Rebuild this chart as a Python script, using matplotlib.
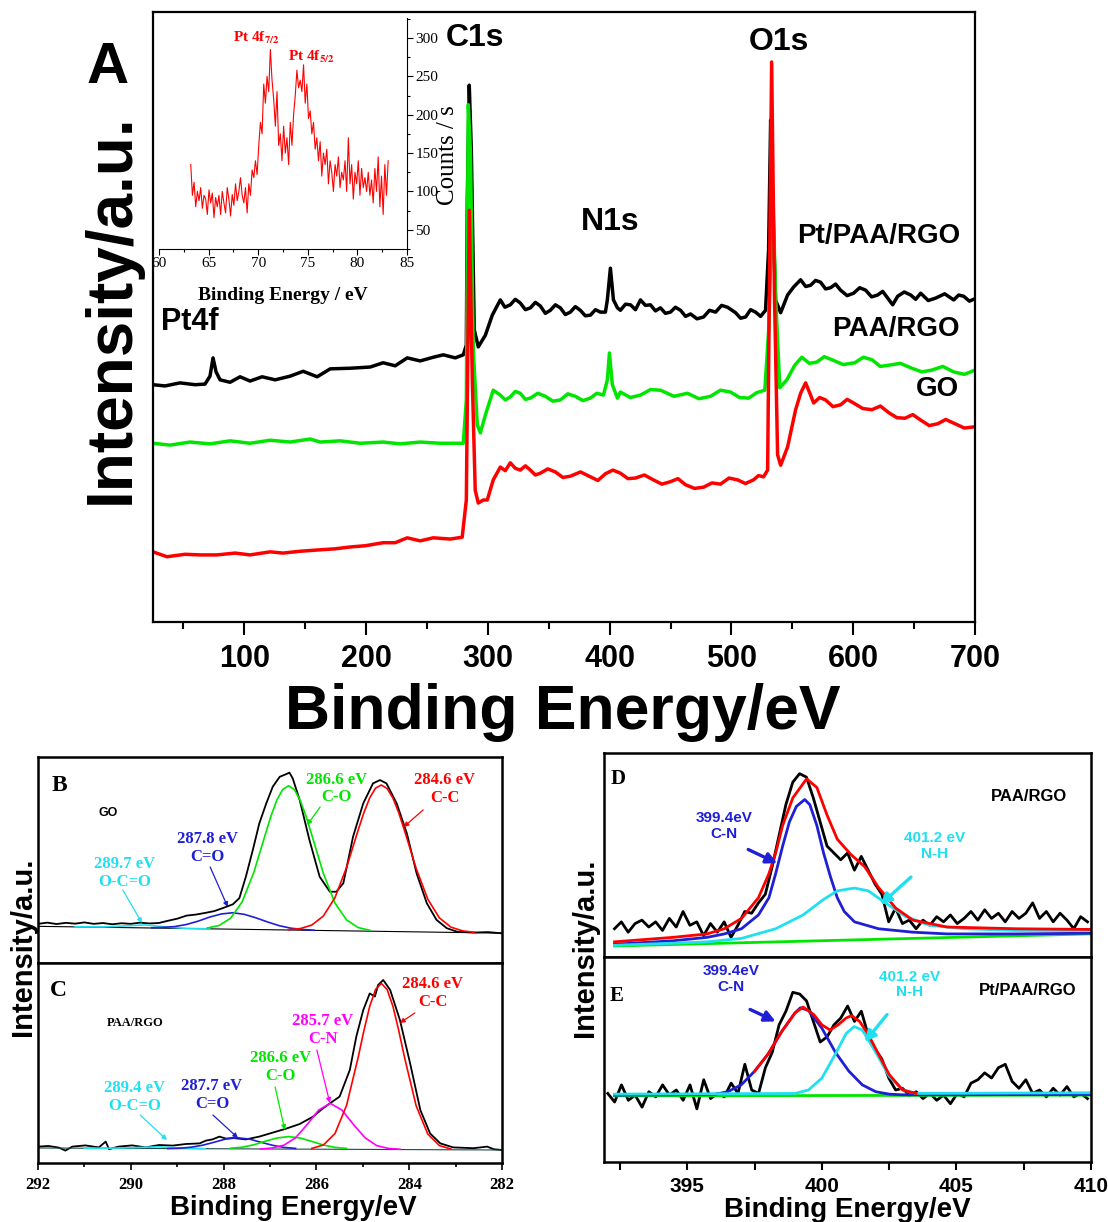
import numpy as np
import matplotlib
matplotlib.use("Agg")
import matplotlib.pyplot as plt
from matplotlib.ticker import MultipleLocator

plt.rcParams['font.family'] = ['Liberation Sans', 'DejaVu Sans']
plt.rcParams['font.weight'] = 'bold'
plt.rcParams['axes.labelweight'] = 'bold'
plt.rcParams['mathtext.fontset'] = 'stix'

SANS = 'Liberation Sans'
SERIF = 'Liberation Serif'
RED, GREEN, BLUE, CYAN, MAGENTA = '#ff0000', '#00e600', '#1f1fd6', '#20e0f0', '#ff00ff'
W, H = 1108, 1222

# ---------------- panel A: survey spectra (binding energy eV, intensity a.u.) ----------------
pt_ev = [25, 34.9, 47.2, 59.5, 67.7, 71.8, 74.3, 76.8, 80.1, 88.3, 96.5, 104.7, 114.6, 125.3, 137.6,
         148.3, 159.8, 170.5, 186.9, 203.4, 214.0, 223.9, 233.8, 244.4, 255.1, 263.4, 273.2, 279.8,
         282.3, 283.1, 284.7, 286.4, 288.8, 292.1, 297.9, 303.6, 310.2, 314.0, 318.4, 322.5, 326.6,
         330.8, 334.9, 339.0, 343.1, 347.2, 351.3, 355.4, 359.5, 363.6, 367.7, 371.8, 375.9, 380.0,
         384.2, 388.3, 392.4, 396.5, 398.1, 400.6, 403.1, 406.4, 408.8, 413.0, 417.1, 421.2,
         425.3, 429.4, 433.5, 437.6, 441.7, 445.8, 449.9, 454.0, 458.2, 462.3, 466.4, 471.7, 477.1,
         482.0, 487.0, 491.9, 496.8, 503.4, 507.5, 511.6, 515.7, 519.8, 523.9, 528.0,
         530.5, 532.2, 533.8, 536.2, 540.4, 546.1, 551.0, 556.8, 561.0, 565.0, 569.1, 573.2, 577.3,
         581.4, 585.5, 589.6, 595.0, 600.3, 605.3, 610.2, 615.1, 620.0, 624.2, 628.3, 632.4, 636.5,
         641.9, 647.2, 651.3, 655.4, 661.6, 667.7, 675.1, 682.5, 686.6, 690.7, 695.4, 700]
pt_int = [38.9, 38.7, 39.2, 38.9, 39.0, 40.3, 43.3, 41.0, 39.7, 39.3, 40.2, 39.5, 40.2, 39.7, 40.3,
          41.1, 40.2, 41.5, 41.6, 41.8, 42.5, 42.0, 43.3, 42.8, 43.4, 43.8, 43.3, 43.8,
          45.4, 69.2, 88.0, 77.4, 47.9, 45.1, 47.0, 50.3, 52.8, 51.6, 52.0, 52.9, 52.3,
          51.2, 51.5, 52.4, 51.8, 50.6, 51.1, 52.0, 51.5, 50.4, 50.8, 51.7, 51.1, 50.2,
          50.3, 51.2, 50.8, 50.8, 52.8, 58.0, 52.8, 51.5, 51.1, 52.1, 52.0, 51.2,
          52.8, 51.9, 52.0, 51.0, 51.5, 50.6, 50.8, 51.6, 51.1, 50.1, 50.5, 49.7, 50.0,
          51.1, 50.8, 51.9, 51.6, 50.7, 49.8, 50.0, 51.2, 50.8, 50.1, 51.1,
          61.0, 82.3, 69.2, 52.8, 50.7, 53.6, 54.9, 56.1, 55.0, 55.2, 56.0, 55.7, 54.6,
          54.8, 55.4, 54.4, 53.5, 53.9, 54.8, 54.4, 53.3, 53.6, 54.2, 53.1, 52.0, 53.4,
          54.1, 53.6, 52.9, 53.9, 52.7, 53.1, 53.8, 52.8, 53.6, 53.4, 52.6, 53.0]

paa_ev = [25, 39.0, 55.4, 71.8, 88.3, 104.7, 121.2, 137.6, 154.0, 162.3, 178.7, 195.1, 214.0, 228.0,
          244.4, 260.9, 279.8, 282.3, 283.9, 285.6, 288.0, 291.3, 293.8, 297.9, 304.4, 310.2, 314.3,
          318.4, 322.5, 326.6, 330.8, 334.9, 341.0, 347.2, 353.3, 359.5, 365.6, 371.8, 378.0, 384.2,
          389.5, 394.9, 398.1, 399.8, 402.2, 406.4, 408.8, 417.0, 425.3, 433.5, 441.7, 452.8, 463.9,
          473.3, 482.8, 491.0, 499.2, 506.7, 514.2, 520.8, 527.4, 530.6, 533.9, 536.4, 539.7, 545.5,
          552.0, 557.8, 564.0, 570.1, 576.2, 582.4, 591.8, 601.3, 608.3, 615.3, 622.3, 629.3, 638.7,
          648.2, 656.4, 664.6, 673.5, 682.5, 691.2, 700]
paa_int = [29.3, 29.0, 29.5, 29.2, 29.7, 29.3, 29.8, 29.5, 30.0, 29.5, 29.7, 29.3, 29.5, 29.2,
           29.5, 29.3, 29.3, 36.4, 84.8, 77.4, 44.6, 32.3, 31.0, 33.9, 38.0, 37.2, 36.4,
           36.9, 37.8, 37.5, 36.5, 36.7, 37.5, 37.0, 36.2, 36.4, 37.4, 37.0, 36.3, 36.7,
           37.5, 37.2, 39.7, 44.1, 38.9, 36.7, 37.7, 36.8, 37.2, 38.1, 38.0, 37.0, 37.5,
           36.6, 37.0, 38.0, 37.7, 36.8, 36.7, 37.6, 38.0, 47.9, 70.8, 52.8, 38.4, 39.7,
           42.1, 43.4, 42.4, 42.6, 43.5, 43.0, 42.2, 42.5, 43.4, 43.0, 41.9, 42.1, 42.4,
           41.6, 41.0, 41.3, 41.9, 41.0, 40.6, 41.3]

go_ev = [25, 36.5, 51.3, 63.6, 77.6, 92.4, 104.7, 121.2, 131.8, 145.8, 159.8, 174.6, 186.9, 199.2,
         214.0, 223.9, 233.8, 244.4, 255.1, 269.1, 278.9, 282.3, 284.7, 287.2, 289.6, 292.1, 296.2,
         299.5, 304.4, 310.2, 314.3, 318.4, 322.5, 326.6, 330.8, 334.9, 339.0, 343.1, 349.2, 355.4,
         361.5, 367.7, 376.0, 384.2, 390.3, 396.5, 402.6, 408.8, 415.0, 421.2, 428.5, 435.9, 442.9,
         449.9, 456.1, 462.3, 469.7, 477.1, 484.0, 491.0, 498.0, 505.0, 511.5, 518.1, 522.2, 526.4,
         529.7, 533.0, 535.4, 537.9, 540.4, 546.1, 552.7, 556.8, 560.9, 565.0, 567.5, 572.4, 577.3,
         583.4, 589.6, 595.0, 600.3, 607.8, 615.3, 622.3, 629.3, 635.8, 642.4, 648.9, 655.4, 662.4,
         669.4, 676.0, 682.5, 691.2, 700]
go_int = [11.5, 10.7, 11.1, 11.0, 11.0, 11.3, 11.0, 11.5, 11.3, 11.6, 11.8, 12.0, 12.3, 12.5,
          13.0, 13.0, 13.8, 13.3, 13.8, 13.6, 13.9, 20.0, 67.5, 39.7, 21.6, 19.5, 20.0,
          20.0, 23.3, 25.4, 24.8, 26.1, 25.2, 24.9, 25.6, 24.9, 24.1, 24.4, 25.1, 24.6,
          23.7, 23.9, 24.6, 23.8, 23.2, 24.3, 24.9, 24.4, 23.5, 23.6, 24.1, 23.3, 22.6,
          23.0, 23.5, 22.5, 21.9, 22.1, 22.8, 22.6, 23.6, 23.3, 22.7, 23.3, 24.0, 23.8,
          24.9, 91.8, 52.8, 27.4, 25.7, 28.7, 34.8, 37.5, 39.2, 37.2, 35.9, 36.8, 36.4,
          35.3, 35.6, 36.5, 35.9, 35.0, 34.8, 35.4, 34.3, 33.5, 33.4, 34.0, 33.1, 32.2,
          32.5, 33.2, 32.6, 31.8, 32.0]

# inset: Pt 4f region, counts/s, evenly sampled from 63.2 to 83.1 eV
pt4f_counts = [135, 95, 112, 80, 100, 88, 105, 78, 95, 90, 70, 102, 85, 98, 66, 92, 80,
               95, 70, 100, 85, 72, 105, 90, 68, 96, 82, 110, 88, 100, 118, 95, 85, 105, 72,
               110, 95, 128, 118, 140, 122, 160, 190, 175,
               240, 215, 250, 230, 285, 245,
               220, 185, 230, 160, 175, 140,
               185, 150, 170, 135, 190, 160,
               200, 225, 258, 235, 245, 230,
               265, 215, 240, 195, 205, 175,
               190, 155, 170, 140, 165, 120, 150, 135, 155,
               110, 140, 125, 100, 135, 120, 145, 105, 125, 115, 140, 100,
               170, 110, 135, 90, 125, 110, 140, 95, 130, 105, 118, 100,
               125, 95, 115, 85, 130, 100, 145, 80, 120, 70, 135, 95, 140]

# ---------------- panels B / C: C1s ----------------
b_ev = [292.0, 291.8, 291.6, 291.4, 291.2, 291.0, 290.8, 290.6, 290.4, 290.2, 290.0, 289.8, 289.6,
        289.4, 289.2, 289.0, 288.8, 288.6, 288.4, 288.2, 288.0, 287.8, 287.66, 287.52, 287.37,
        287.23, 287.08, 286.94, 286.79, 286.65, 286.58, 286.51, 286.36, 286.15, 285.93, 285.71,
        285.57, 285.42, 285.21, 284.99, 284.78, 284.63, 284.49, 284.27, 284.05, 283.84, 283.62,
        283.41, 283.19, 282.97, 282.61, 282.3, 282.0]
b_int = [19.0, 19.6, 18.9, 19.5, 19.1, 19.7, 19.0, 19.4, 18.8, 19.3, 19.0, 19.6, 19.2,
         19.4, 20.5, 21.5, 23.0, 23.5, 24.3, 25.2, 26.8, 28.5, 31.5, 41.9, 54.9,
         67.8, 77.5, 85.6, 90.4, 91.7, 92.4, 89.6, 79.1, 59.7, 41.9, 34.6,
         34.6, 38.7, 61.3, 77.5, 87.2, 88.8, 87.2, 77.5, 62.9, 43.5, 29.0,
         20.9, 16.9, 15.2, 14.8, 15.0, 14.4]
b_cc_ev = [282.6, 282.85, 283.1, 283.35, 283.6, 283.85, 284.1, 284.225, 284.35, 284.475, 284.6,
           284.725, 284.85, 284.975, 285.1, 285.35, 285.6, 285.85, 286.1, 286.35, 286.6]
b_cc_int = [14.9, 15.6, 17.4, 21.9, 31.0, 45.9, 64.2, 72.9, 80.0, 84.7, 86.4,
            84.9, 80.2, 73.1, 64.5, 46.4, 31.7, 22.8, 18.4, 16.7, 16.2]
b_co_ev = [284.85, 285.1, 285.35, 285.6, 285.85, 286.1, 286.225, 286.35, 286.475, 286.6, 286.725,
           286.85, 286.975, 287.1, 287.35, 287.6, 287.85, 288.1, 288.35]
b_co_int = [15.9, 17.2, 20.9, 29.1, 43.5, 62.2, 71.4, 79.0, 84.2, 86.0, 84.3,
            79.2, 71.6, 62.5, 43.9, 29.7, 21.7, 18.2, 17.0]
b_cdo_ev = [286.05, 286.3, 286.55, 286.8, 287.05, 287.3, 287.55, 287.8, 288.05, 288.3, 288.55,
            288.8, 289.05, 289.3, 289.55]
b_cdo_int = [15.9, 16.3, 16.9, 18.1, 19.9, 21.9, 23.6, 24.4, 23.8, 22.3, 20.3, 18.7, 17.7, 17.3, 17.1]
b_occo_ev = [288.3, 288.8, 289.2, 289.7, 290.2, 290.6, 291.2]
b_occo_int = [16.6, 16.8, 17.4, 18.5, 17.9, 17.5, 17.6]
b_base_ev, b_base_int = [292, 282], [17.8, 14.5]

c_ev = [292.0, 291.77, 291.55, 291.41, 291.26, 290.98, 290.69, 290.54, 290.47, 290.26, 289.97,
        289.68, 289.39, 289.10, 288.81, 288.52, 288.38, 288.24, 288.09, 287.95, 287.80, 287.52,
        287.23, 286.94, 286.65, 286.36, 286.07, 285.86, 285.71, 285.50, 285.28, 285.14, 284.99,
        284.85, 284.74, 284.67, 284.56, 284.41, 284.20, 283.98, 283.76, 283.55, 283.33, 283.05,
        282.61, 282.32, 282.18, 282.0]
c_int = [8.2, 8.5, 7.7, 6.2, 8.2, 8.8, 7.8, 10.7, 6.9, 8.2, 8.8,
         7.8, 9.0, 8.7, 9.5, 9.8, 11.2, 11.8, 13.2, 12.2, 12.5, 11.8,
         13.2, 15.2, 17.2, 19.5, 23.2, 27.3, 29.8, 33.2, 46.5, 63.2, 76.5,
         84.8, 83.2, 89.0, 91.5, 86.5, 71.5, 49.8, 26.5, 14.8, 9.8, 7.8,
         7.4, 8.2, 6.9, 6.5]
c_cc_ev = [283.1, 283.35, 283.6, 283.85, 284.1, 284.225, 284.35, 284.475, 284.6, 284.725, 284.85,
           284.975, 285.1, 285.35, 285.6, 285.85, 286.1]
c_cc_int = [7.0, 8.7, 14.5, 28.6, 52.7, 66.2, 78.3, 86.7, 89.8, 86.8, 78.4, 66.3, 52.8, 28.8, 14.7, 9.0, 7.3]
c_cn_ev = [284.2, 284.45, 284.7, 284.95, 285.2, 285.45, 285.7, 285.95, 286.2, 286.45, 286.7, 286.95, 287.2]
c_cn_int = [6.9, 7.3, 8.7, 12.6, 19.2, 26.5, 29.8, 26.5, 19.2, 12.6, 8.9, 7.5, 7.0]
c_co_ev = [285.35, 285.6, 285.85, 286.1, 286.35, 286.6, 286.85, 287.1, 287.35, 287.6, 287.85]
c_co_int = [7.3, 7.8, 9.0, 10.8, 12.5, 13.2, 12.5, 10.9, 9.1, 7.9, 7.4]
c_cdo_ev = [286.45, 286.7, 286.95, 287.2, 287.45, 287.7, 287.95, 288.2, 288.45, 288.7, 288.95, 289.2]
c_cdo_int = [7.3, 7.8, 8.9, 10.4, 12.0, 12.6, 12.0, 10.4, 8.9, 7.9, 7.4, 7.2]
c_occo_ev = [288.4, 288.9, 289.4, 289.9, 290.4, 291.0]
c_occo_int = [7.15, 7.5, 8.1, 7.7, 7.4, 7.4]
c_base_ev, c_base_int = [292, 282], [7.5, 6.5]

# ---------------- panels D / E: N1s ----------------
d_counts = [8.0, 10.0, 7.0, 9.5, 10.5, 8.5, 10.0, 7.5, 11.0, 8.5,
            13.0, 9.0, 10.0, 6.0, 9.5, 7.0, 10.0, 5.5, 9.0, 13.0,
            12.5, 15.5, 18.0, 26.0, 35.0, 44.0, 50.5, 53.0, 52.0, 46.0,
            39.0, 32.0, 30.0, 28.0, 30.0, 25.0, 29.0, 25.0, 21.0, 18.0,
            10.0, 14.0, 9.5, 10.5, 8.0, 10.5, 9.0, 11.5, 10.0, 12.0,
            9.5, 11.0, 13.0, 10.5, 13.5, 11.0, 12.5, 10.0, 13.0, 11.0,
            12.5, 15.5, 11.0, 13.0, 10.0, 12.5, 10.5, 8.0, 11.5, 10.0]
d_cn_ev = [392.29, 394.46, 395.73, 396.37, 397.01, 397.64, 398.03, 398.28, 398.54, 398.79, 399.05,
           399.36, 399.55, 399.81, 400.06, 400.32, 400.57, 400.83, 401.21, 402.10, 403.38, 404.65,
           407.20, 409.97]
d_cn_int = [3.5, 4.5, 5.5, 6.5, 8.0, 12.0, 17.0, 24.0, 32.0, 39.0, 43.5,
            45.5, 44.0, 38.0, 30.0, 23.0, 17.0, 13.0, 10.0, 8.0, 7.0, 6.5, 6.5, 6.7]
d_nh_ev = [392.29, 394.46, 395.73, 397.01, 398.28, 399.30, 400.06, 400.57, 401.21, 401.72, 402.36,
           403.12, 404.01, 405.29, 407.20, 409.97]
d_nh_int = [3.2, 3.8, 4.2, 5.2, 8.0, 12.0, 16.5, 19.0, 19.8, 19.0, 15.5, 11.5, 9.0, 8.0, 7.5, 7.5]
d_fit_ev = [392.29, 394.46, 395.73, 396.37, 397.01, 397.64, 398.03, 398.28, 398.54, 398.92, 399.43,
            399.81, 400.19, 400.57, 401.08, 401.59, 402.10, 402.74, 403.38, 404.65, 407.20, 409.97]
d_fit_int = [4.2, 5.5, 6.5, 8.0, 11.0, 17.0, 24.0, 30.0, 38.0, 46.0, 51.5,
             49.0, 41.0, 34.0, 29.5, 26.0, 20.0, 14.0, 10.5, 8.5, 8.0, 7.8]
d_base_ev, d_base_int = [392.29, 409.97], [3.0, 6.5]

e_counts = [20.0, 17.5, 22.5, 18.0, 19.5, 16.0, 20.5, 19.0, 22.5, 19.5,
            21.0, 18.0, 22.5, 15.5, 24.0, 18.5, 20.0, 19.0, 23.0, 20.0,
            28.5, 21.0, 20.0, 27.5, 32.0, 40.0, 44.0, 49.5, 49.0, 47.0,
            41.0, 35.0, 36.5, 40.0, 42.0, 45.5, 41.0, 44.0, 37.0, 33.0,
            30.0, 24.5, 21.0, 21.5, 19.5, 20.5, 18.5, 20.0, 18.0, 19.5,
            17.0, 20.0, 19.0, 23.0, 24.0, 26.0, 24.5, 27.5, 28.5, 23.5,
            21.5, 24.0, 20.0, 21.0, 19.0, 21.5, 19.5, 22.0, 19.0, 20.0,
            18.5]
e_cn_ev = [392.29, 396.0, 396.5, 397.0, 397.5, 398.0, 398.5, 399.0, 399.2, 399.5, 400.0, 400.5,
           401.0, 401.5, 402.0, 402.5, 403.0, 409.97]
e_cn_int = [19.5, 19.7, 20.5, 22.5, 26.5, 31.5, 38.0, 43.5, 45.0, 44.2, 39.0, 32.0,
            26.5, 22.5, 20.5, 19.8, 19.6, 19.7]
e_nh_ev = [392.29, 399.0, 399.5, 400.0, 400.5, 400.9, 401.2, 401.5, 402.0, 402.5, 403.0, 403.5, 409.97]
e_nh_int = [19.8, 20.0, 21.0, 24.5, 31.5, 37.5, 39.5, 38.5, 32.0, 25.0, 21.0, 20.0, 20.2]
e_fit_ev = [397.5, 398.0, 398.5, 399.0, 399.3, 399.7, 400.0, 400.3, 400.6, 400.9, 401.1, 401.4,
            401.7, 402.0, 402.5, 403.0, 403.5]
e_fit_int = [26.5, 31.5, 38.0, 43.5, 45.2, 43.0, 40.0, 38.5, 40.0, 42.0, 42.7, 41.0,
             37.5, 33.0, 25.5, 21.0, 20.0]
e_base_ev, e_base_int = [392.29, 409.97], [19.3, 19.5]


def box(left, top, right, bottom):
    # pixel box measured from the top-left corner -> figure fraction rect
    return [left / W, 1 - bottom / H, (right - left) / W, (bottom - top) / H]


def label_arrow(ax, txt, xy_text, tail, head, color, size, family, lw, head_size):
    ax.text(xy_text[0], xy_text[1], txt, color=color, fontsize=size, family=family,
            fontweight='bold', ha='center', va='center', linespacing=1.15)
    ax.annotate('', xy=head, xytext=tail,
                arrowprops=dict(arrowstyle='-|>', color=color, lw=lw,
                                mutation_scale=head_size, shrinkA=0, shrinkB=0))


fig = plt.figure(figsize=(W / 100, H / 100), dpi=100)

# ---- A ----
ax = fig.add_axes(box(153, 12, 975, 622))
ax.plot(pt_ev, pt_int, color='black', lw=2.5)
ax.plot(paa_ev, paa_int, color=GREEN, lw=2.5)
ax.plot(go_ev, go_int, color=RED, lw=2.5)
ax.set_xlim(25, 700)
ax.set_ylim(0, 100)
ax.set_yticks([])
ax.xaxis.set_major_locator(MultipleLocator(100))
ax.xaxis.set_minor_locator(MultipleLocator(50))
ax.tick_params(axis='x', which='major', direction='out', length=9, width=1.5, labelsize=22, pad=7)
ax.tick_params(axis='x', which='minor', direction='out', length=5, width=1.5)
for s in ax.spines.values():
    s.set_linewidth(1.6)
ax.set_xlabel('Binding Energy/eV', fontsize=45)
ax.xaxis.set_label_coords(0.499, -0.148)
ax.xaxis.label.set_va('center')
ax.set_ylabel('Intensity/a.u.', fontsize=46)
ax.yaxis.set_label_coords(-0.05, 0.513)
ax.yaxis.label.set_va('center')
fig.text(108 / W, 1 - 68 / H, 'A', fontsize=42, ha='center', va='center')

for txt, x, y, fs in [('C1s', 289.6, 95.7, 23), ('O1s', 538.7, 95.1, 23), ('N1s', 400.6, 65.6, 23),
                      ('Pt4f', 55.4, 49.2, 22), ('Pt/PAA/RGO', 620.9, 63.3, 20),
                      ('PAA/RGO', 634.9, 48.0, 20), ('GO', 669.4, 38.2, 20)]:
    ax.text(x, y, txt, fontsize=fs, ha='center', va='center')

# inset
axi = fig.add_axes(box(159, 18, 407, 249))
axi.patch.set_alpha(0)
axi.plot(np.linspace(63.2, 83.1, len(pt4f_counts)), pt4f_counts, color=RED, lw=0.8)
axi.set_xlim(60, 85)
axi.set_ylim(25, 326)
axi.spines['top'].set_visible(False)
axi.spines['left'].set_visible(False)
axi.yaxis.tick_right()
axi.yaxis.set_label_position('right')
axi.xaxis.set_major_locator(MultipleLocator(5))
axi.xaxis.set_minor_locator(MultipleLocator(2.5))
axi.yaxis.set_major_locator(MultipleLocator(50))
axi.yaxis.set_minor_locator(MultipleLocator(25))
axi.tick_params(which='major', direction='out', length=4, width=0.8, labelsize=11, pad=2)
axi.tick_params(which='minor', direction='out', length=2, width=0.8)
plt.setp(axi.get_xticklabels() + axi.get_yticklabels(), family=SERIF, fontweight='normal')
axi.set_xlabel('Binding Energy / eV', fontsize=14, family=SERIF)
axi.xaxis.set_label_coords(0.5, -0.2)
axi.xaxis.label.set_va('center')
axi.set_ylabel('Counts / s', fontsize=18, family=SERIF, fontweight='normal')
axi.yaxis.set_label_coords(1.165, 0.407)
axi.yaxis.label.set_va('center')
axi.text(67.5, 300, r'Pt 4f$_{\mathbf{7/2}}$', color=RED, fontsize=11, family=SERIF, ha='left', va='center')
axi.text(73.0, 275, r'Pt 4f$_{\mathbf{5/2}}$', color=RED, fontsize=11, family=SERIF, ha='left', va='center')

# ---- B ----
axb = fig.add_axes(box(38, 757, 502, 963))
axb.plot(b_ev, b_int, color='black', lw=1.3)
axb.plot(b_base_ev, b_base_int, color='black', lw=0.8)
axb.plot(b_occo_ev, b_occo_int, color=CYAN, lw=1.2)
axb.plot(b_cdo_ev, b_cdo_int, color=BLUE, lw=1.2)
axb.plot(b_co_ev, b_co_int, color=GREEN, lw=1.2)
axb.plot(b_cc_ev, b_cc_int, color=RED, lw=1.2)
axb.set_xlim(292, 282)
axb.set_ylim(0, 100)
axb.set_xticks([])
axb.set_yticks([])
axb.text(291.53, 86.4, 'B', fontsize=17, family=SERIF, ha='center', va='center')
axb.text(290.49, 72.8, 'GO', fontsize=9, ha='center', va='center')
label_arrow(axb, '286.6 eV\nC-O', (285.56, 84.7), (285.92, 75.7), (286.2, 67.0), GREEN, 12, SERIF, 0.9, 7)
label_arrow(axb, '284.6 eV\nC-C', (283.23, 84.5), (283.70, 74.3), (284.12, 66.0), RED, 12, SERIF, 0.9, 7)
label_arrow(axb, '287.8 eV\nC=O', (288.34, 55.8), (288.29, 46.6), (287.91, 27.2), BLUE, 12, SERIF, 0.9, 7)
label_arrow(axb, '289.7 eV\nO-C=O', (290.13, 43.7), (290.17, 35.4), (289.76, 19.4), CYAN, 12, SERIF, 0.9, 7)

# ---- C ----
axc = fig.add_axes(box(38, 963, 502, 1163))
axc.plot(c_ev, c_int, color='black', lw=1.3)
axc.plot(c_base_ev, c_base_int, color='#1a4a4a', lw=0.8)
axc.plot(c_occo_ev, c_occo_int, color=CYAN, lw=1.2)
axc.plot(c_cdo_ev, c_cdo_int, color=BLUE, lw=1.2)
axc.plot(c_co_ev, c_co_int, color=GREEN, lw=1.2)
axc.plot(c_cn_ev, c_cn_int, color=MAGENTA, lw=1.2)
axc.plot(c_cc_ev, c_cc_int, color=RED, lw=1.2)
axc.set_xlim(292, 282)
axc.set_ylim(0, 100)
axc.set_yticks([])
axc.xaxis.set_major_locator(MultipleLocator(2))
axc.xaxis.set_minor_locator(MultipleLocator(1))
axc.tick_params(axis='x', which='major', direction='out', length=5, width=1.2, labelsize=12, pad=5)
axc.tick_params(axis='x', which='minor', direction='out', length=3, width=1.2)
plt.setp(axc.get_xticklabels(), family=SERIF)
axc.set_xlabel('Binding Energy/eV', fontsize=20)
axc.xaxis.set_label_coords(0.55, -0.225)
axc.xaxis.label.set_va('center')
axc.text(291.57, 86.5, 'C', fontsize=17, family=SERIF, ha='center', va='center')
axc.text(289.91, 70.0, 'PAA/RGO', fontsize=9, family=SERIF, ha='center', va='center')
label_arrow(axc, '284.6 eV\nC-C', (283.49, 85.0), (283.88, 75.0), (284.20, 70.0), RED, 12, SERIF, 0.9, 7)
label_arrow(axc, '285.7 eV\nC-N', (285.86, 66.5), (285.99, 56.5), (285.71, 30.0), MAGENTA, 12, SERIF, 0.9, 7)
label_arrow(axc, '286.6 eV\nC-O', (286.78, 48.0), (286.89, 38.0), (286.68, 16.5), GREEN, 12, SERIF, 0.9, 7)
label_arrow(axc, '287.7 eV\nC=O', (288.25, 34.0), (288.23, 24.0), (287.69, 12.5), BLUE, 12, SERIF, 0.9, 7)
label_arrow(axc, '289.4 eV\nO-C=O', (289.91, 33.0), (289.80, 24.0), (289.22, 11.5), CYAN, 12, SERIF, 0.9, 7)
fig.text(23 / W, 1 - 947 / H, 'Intensity/a.u.', fontsize=21, rotation=90, ha='center', va='center')

for a in (axb, axc):
    for s in a.spines.values():
        s.set_linewidth(1.8)

# ---- D ----
axd = fig.add_axes(box(604, 753, 1091, 957))
axd.plot(np.linspace(392.29, 409.87, len(d_counts)), d_counts, color='black', lw=2.0)
axd.plot(d_base_ev, d_base_int, color=GREEN, lw=2.0)
axd.plot(d_cn_ev, d_cn_int, color=BLUE, lw=2.0)
axd.plot(d_nh_ev, d_nh_int, color=CYAN, lw=2.0)
axd.plot(d_fit_ev, d_fit_int, color=RED, lw=2.0)
axd.set_xlim(391.9, 410)
axd.set_ylim(-0.2, 59)
axd.set_xticks([])
axd.set_yticks([])
axd.text(392.42, 51.5, 'D', fontsize=15, family=SERIF, ha='center', va='center')
axd.text(407.68, 46.5, 'PAA/RGO', fontsize=12, ha='center', va='center')
label_arrow(axd, '399.4eV\nC-N', (396.37, 37.8), (397.26, 31.0), (398.34, 27.0), BLUE, 11, SANS, 2.4, 16)
label_arrow(axd, '401.2 eV\nN-H', (404.20, 32.0), (403.31, 23.0), (402.17, 15.0), CYAN, 11, SANS, 2.4, 16)

# ---- E ----
axe = fig.add_axes(box(604, 957, 1091, 1162))
axe.plot(np.linspace(392.04, 409.87, len(e_counts)), e_counts, color='black', lw=2.0)
axe.plot(e_base_ev, e_base_int, color=GREEN, lw=2.0)
axe.plot(e_cn_ev, e_cn_int, color=BLUE, lw=2.0)
axe.plot(e_nh_ev, e_nh_int, color=CYAN, lw=2.0)
axe.plot(e_fit_ev, e_fit_int, color=RED, lw=2.0)
axe.set_xlim(391.9, 410)
axe.set_ylim(0, 59.8)
axe.set_yticks([])
axe.xaxis.set_major_locator(MultipleLocator(5))
axe.xaxis.set_minor_locator(MultipleLocator(2.5))
axe.tick_params(axis='x', which='both', direction='out', length=6, width=1.5, labelsize=15, pad=5)
axe.set_xlabel('Binding Energy/eV', fontsize=20)
axe.xaxis.set_label_coords(0.499, -0.234)
axe.xaxis.label.set_va('center')
axe.text(392.36, 48.5, 'E', fontsize=15, family=SERIF, ha='center', va='center')
axe.text(407.64, 50.0, 'Pt/PAA/RGO', fontsize=12, ha='center', va='center')
label_arrow(axe, '399.4eV\nC-N', (396.62, 53.3), (397.33, 44.5), (398.28, 41.0), BLUE, 11, SANS, 2.4, 16)
label_arrow(axe, '401.2 eV\nN-H', (403.25, 51.8), (402.42, 43.0), (401.59, 35.0), CYAN, 11, SANS, 2.4, 16)
fig.text(585 / W, 1 - 948 / H, 'Intensity/a.u.', fontsize=21, rotation=90, ha='center', va='center')

for a in (axd, axe):
    for s in a.spines.values():
        s.set_linewidth(1.8)

fig.savefig('out.png', dpi=100)
